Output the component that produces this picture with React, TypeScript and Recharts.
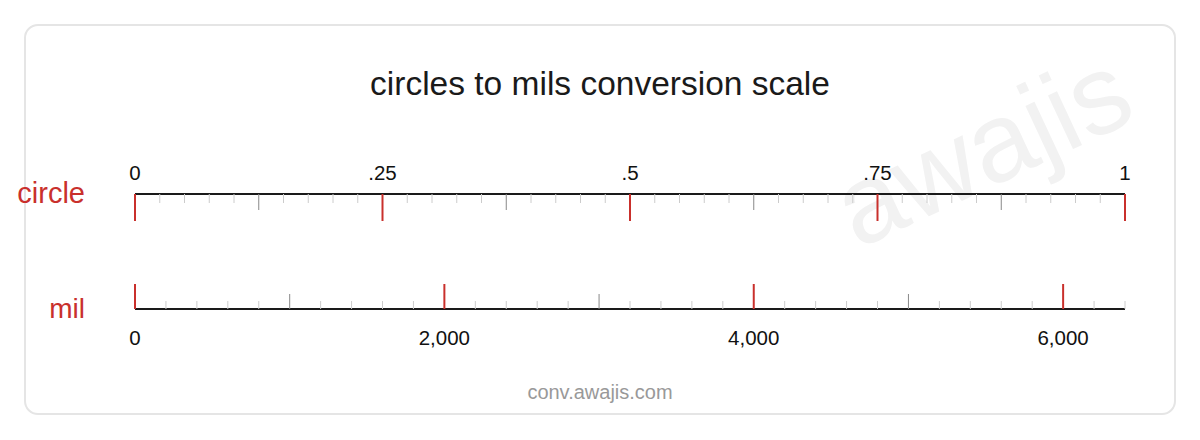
import React from 'react';
import { ComposedChart, Line, XAxis, YAxis } from 'recharts';

// one circle = 6400 mils
const circleValues = [0, 1];
const milValues = [0, 6400];

const circleMajor = [0, 0.25, 0.5, 0.75, 1];
const circleLabels = ['0', '.25', '.5', '.75', '1'];
const milMajor = [0, 2000, 4000, 6000];
const milLabels = ['0', '2,000', '4,000', '6,000'];

// minor ticks every 1/40 circle and every 200 mil
const circleTicks = Array.from({ length: 41 }, (_, k) => Math.round(k * 25) / 1000);
const milTicks = Array.from({ length: 33 }, (_, k) => k * 200);

const data = circleValues.map((c, i) => ({ circle: c, mil: milValues[i], y: 0 }));

const RED = '#c9302c';
const FONT = '"Liberation Sans", Arial, Helvetica, sans-serif';

function CircleTick(props: any) {
  const { x, y, payload } = props;
  const v = payload.value;
  const i = circleMajor.indexOf(v);
  const mid = Math.abs(v * 8 - Math.round(v * 8)) < 1e-9;
  const len = i >= 0 ? 27 : mid ? 16 : 9;
  const stroke = i >= 0 ? RED : mid ? '#888' : '#ccc';
  return (
    <g>
      <line x1={x} x2={x} y1={y} y2={y + len} stroke={stroke} strokeWidth={i >= 0 ? 2 : 1} />
      {i >= 0 && (
        <text x={x} y={y - 14} textAnchor="middle" fontSize={20.5} fill="#111" fontFamily={FONT}>
          {circleLabels[i]}
        </text>
      )}
    </g>
  );
}

function MilTick(props: any) {
  const { x, y, payload } = props;
  const v = payload.value;
  const i = milMajor.indexOf(v);
  const mid = v % 1000 === 0;
  const len = i >= 0 ? 25 : mid ? 15 : 8;
  const stroke = i >= 0 ? RED : mid ? '#888' : '#ccc';
  return (
    <g>
      <line x1={x} x2={x} y1={y} y2={y - len} stroke={stroke} strokeWidth={i >= 0 ? 2 : 1} />
      {i >= 0 && (
        <text x={x} y={y + 36} textAnchor="middle" fontSize={20.5} fill="#111" fontFamily={FONT}>
          {milLabels[i]}
        </text>
      )}
    </g>
  );
}

export default function App() {
  return (
    <div style={{ position: 'absolute', left: 0, top: 0, width: 1200, height: 440, background: '#fff' }}>
      <div
        style={{
          position: 'absolute',
          left: 24,
          top: 24,
          width: 1152,
          height: 391,
          boxSizing: 'border-box',
          border: '2px solid #e5e5e5',
          borderRadius: 14,
        }}
      />
      <svg width={1200} height={440} style={{ position: 'absolute', left: 0, top: 0 }}>
        <text
          x={986}
          y={157}
          textAnchor="middle"
          dominantBaseline="middle"
          fontSize={112}
          fill="#f2f2f2"
          fontFamily={FONT}
          transform="rotate(-25 986 157)"
        >
          awajis
        </text>
        <text x={600} y={95} textAnchor="middle" fontSize={33.5} fill="#1a1a1a" fontFamily={FONT}>
          circles to mils conversion scale
        </text>
        <text x={85} y={203} textAnchor="end" fontSize={29} fill={RED} fontFamily={FONT}>
          circle
        </text>
        <text x={85} y={318} textAnchor="end" fontSize={28} fill={RED} fontFamily={FONT}>
          mil
        </text>
        <text x={600} y={399} textAnchor="middle" fontSize={20} fill="#999" fontFamily={FONT}>
          conv.awajis.com
        </text>
      </svg>
      <div style={{ position: 'absolute', left: 0, top: 0 }}>
        <ComposedChart
          width={1200}
          height={440}
          data={data}
          margin={{ top: 164, right: 75, bottom: 101, left: 135 }}
        >
          <XAxis
            xAxisId="circle"
            dataKey="circle"
            type="number"
            orientation="top"
            domain={[0, 1]}
            ticks={circleTicks}
            interval={0}
            height={30}
            tickSize={0}
            tickMargin={0}
            tickLine={false}
            axisLine={{ stroke: '#1a1a1a', strokeWidth: 2 }}
            tick={<CircleTick />}
          />
          <XAxis
            xAxisId="mil"
            dataKey="mil"
            type="number"
            orientation="bottom"
            domain={[0, 6400]}
            ticks={milTicks}
            interval={0}
            height={30}
            tickSize={0}
            tickMargin={0}
            tickLine={false}
            axisLine={{ stroke: '#1a1a1a', strokeWidth: 2 }}
            tick={<MilTick />}
          />
          <YAxis hide domain={[0, 1]} />
          <Line xAxisId="circle" dataKey="y" stroke="none" dot={false} isAnimationActive={false} />
          <Line xAxisId="mil" dataKey="y" stroke="none" dot={false} isAnimationActive={false} />
        </ComposedChart>
      </div>
    </div>
  );
}
